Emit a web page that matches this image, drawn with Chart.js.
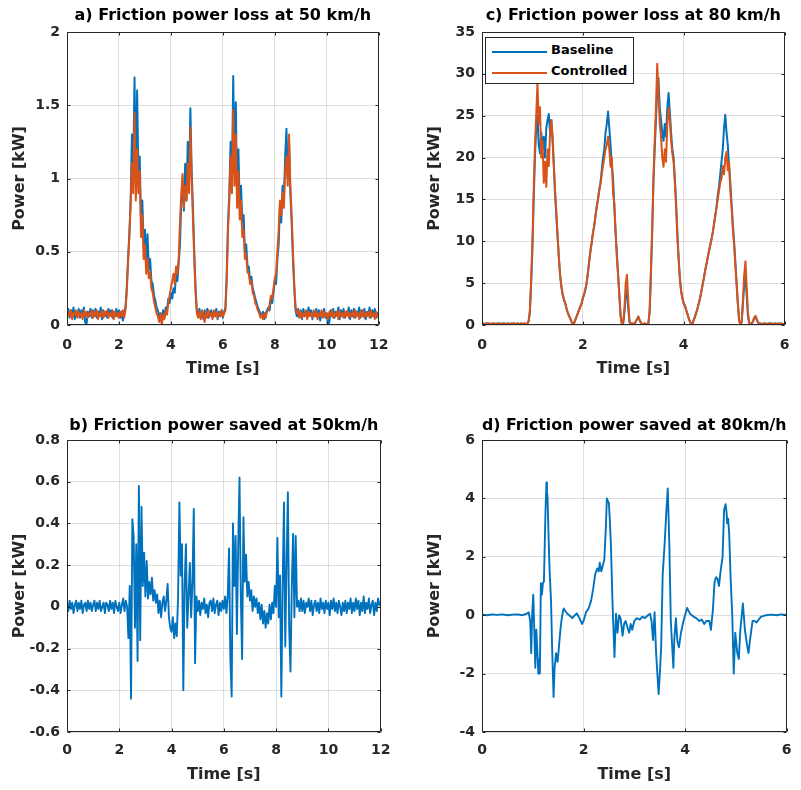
<!DOCTYPE html>
<html>
<head>
<meta charset="utf-8">
<script src="https://cdn.jsdelivr.net/npm/chart.js@4.4.0/dist/chart.umd.min.js"></script>
<style>
  html, body { margin: 0; padding: 0; background: #fff; }
  #wrap { position: relative; width: 801px; height: 790px; background: #fff; overflow: hidden; }
  #wrap canvas { position: absolute; }
  #legendC { position: absolute; left: 485px; top: 37px; width: 149px; height: 47px; box-sizing: border-box;
             background: #fff; border: 1px solid #262626; }
  .lrow { position: absolute; left: 0; width: 100%; height: 20px; }
  .lsw { position: absolute; left: 6px; top: 9px; width: 55px; height: 2px; }
  .ltx { position: absolute; left: 65px; top: 0; line-height: 20px; font: bold 13px 'DejaVu Sans', sans-serif; color: #000; white-space: nowrap; }
</style>
</head>
<body>
<div id="wrap">
  <canvas id="cA" width="400" height="395" style="left:0px;top:0px;width:400px;height:395px"></canvas>
  <canvas id="cC" width="401" height="395" style="left:400px;top:0px;width:401px;height:395px"></canvas>
  <canvas id="cB" width="400" height="395" style="left:0px;top:395px;width:400px;height:395px"></canvas>
  <canvas id="cD" width="401" height="395" style="left:400px;top:395px;width:401px;height:395px"></canvas>
  <div id="legendC"></div>
</div>
<script>
// ---------------- DATA ----------------
const seriesNames = ['Baseline', 'Controlled'];
const titles = [
  'a) Friction power loss at 50 km/h',
  'b) Friction power saved at 50km/h',
  'c) Friction power loss at 80 km/h',
  'd) Friction power saved at 80km/h'
];
const xTitle = 'Time [s]';
const yTitle = 'Power [kW]';

const xTicks50 = [0, 2, 4, 6, 8, 10, 12];
const xTicks80 = [0, 2, 4, 6];
const yTicksA = [0, 0.5, 1, 1.5, 2];
const yTicksB = [-0.6, -0.4, -0.2, 0, 0.2, 0.4, 0.6, 0.8];
const yTicksC = [0, 5, 10, 15, 20, 25, 30, 35];
const yTicksD = [-4, -2, 0, 2, 4, 6];

// panels a) and b): samples read every 0.05 s from 0 to 12 s
const sampleTimes50 = Array.from({length: 241}, (_, i) => Math.round(i * 5) / 100);
// panel c): samples read every 0.025 s from 0 to 6 s
const sampleTimes80 = Array.from({length: 241}, (_, i) => Math.round(i * 25) / 1000);

const baselineA = [
  0.07,0.11,0.05,0.10,0.06,0.12,0.04,0.09,0.06,0.11,0.05,0.10,0.07,0.12,0.02,0.00,0.09,0.06,0.11,0.05,
  0.10,0.06,0.11,0.05,0.09,0.07,0.12,0.04,0.10,0.06,0.09,0.05,0.11,0.07,0.10,0.05,0.09,0.06,0.11,0.06,
  0.10,0.05,0.09,0.03,0.08,0.12,0.25,0.45,0.62,0.85,1.30,1.05,1.69,0.95,1.60,1.00,1.15,0.70,0.85,0.55,
  0.65,0.45,0.62,0.38,0.45,0.30,0.28,0.20,0.17,0.12,0.10,0.06,0.08,0.03,0.10,0.05,0.12,0.10,0.18,0.15,
  0.22,0.18,0.25,0.22,0.35,0.30,0.42,0.55,0.85,0.95,0.78,1.10,0.85,1.25,0.95,1.48,1.05,0.80,0.50,0.25,
  0.10,0.07,0.11,0.05,0.09,0.04,0.10,0.06,0.11,0.05,0.08,0.10,0.05,0.09,0.06,0.11,0.04,0.09,0.06,0.10,
  0.05,0.09,0.12,0.35,0.70,0.90,1.25,0.95,1.70,1.05,1.52,0.85,1.20,0.80,0.95,0.70,0.75,0.50,0.55,0.40,
  0.40,0.30,0.33,0.25,0.22,0.18,0.15,0.12,0.10,0.08,0.06,0.09,0.04,0.08,0.10,0.12,0.10,0.18,0.15,0.22,
  0.30,0.28,0.45,0.55,0.82,0.70,0.95,0.85,1.15,1.34,1.00,1.25,0.90,0.70,0.45,0.25,0.10,0.06,0.11,0.05,
  0.10,0.04,0.11,0.06,0.09,0.05,0.12,0.07,0.10,0.04,0.09,0.06,0.11,0.05,0.10,0.03,0.09,0.07,0.11,0.05,
  0.08,0.00,0.02,0.10,0.06,0.11,0.05,0.09,0.07,0.12,0.04,0.10,0.06,0.11,0.05,0.09,0.07,0.12,0.04,0.10,
  0.06,0.11,0.05,0.09,0.07,0.12,0.05,0.10,0.06,0.11,0.04,0.09,0.07,0.12,0.05,0.10,0.06,0.11,0.05,0.08,
  0.07
];
const controlledA = [
  0.05,0.09,0.06,0.10,0.04,0.08,0.07,0.10,0.05,0.09,0.06,0.08,0.04,0.10,0.06,0.09,0.05,0.08,0.07,0.10,
  0.05,0.09,0.06,0.10,0.04,0.08,0.06,0.10,0.05,0.09,0.07,0.10,0.05,0.08,0.06,0.10,0.04,0.09,0.06,0.08,
  0.05,0.09,0.06,0.10,0.05,0.10,0.22,0.42,0.60,0.82,1.10,0.90,1.45,0.85,1.20,0.90,1.05,0.60,0.75,0.45,
  0.55,0.35,0.45,0.32,0.36,0.25,0.22,0.16,0.12,0.08,0.06,0.02,0.08,0.00,0.07,0.04,0.10,0.07,0.15,0.20,
  0.25,0.30,0.35,0.28,0.40,0.35,0.45,0.70,0.90,1.03,0.80,0.95,0.85,1.10,0.90,1.35,1.00,0.72,0.45,0.22,
  0.08,0.05,0.09,0.04,0.10,0.06,0.02,0.09,0.05,0.10,0.06,0.08,0.04,0.10,0.06,0.09,0.05,0.08,0.06,0.10,
  0.06,0.08,0.10,0.30,0.65,0.85,1.15,0.90,1.47,0.95,1.30,0.80,1.05,0.72,0.85,0.60,0.65,0.45,0.48,0.36,
  0.35,0.28,0.30,0.22,0.20,0.15,0.13,0.10,0.08,0.05,0.07,0.04,0.08,0.05,0.09,0.10,0.14,0.20,0.18,0.25,
  0.32,0.35,0.50,0.65,0.85,0.75,0.90,0.80,1.05,1.15,0.95,1.30,0.95,0.75,0.50,0.28,0.12,0.08,0.10,0.05,
  0.09,0.05,0.08,0.06,0.10,0.04,0.09,0.06,0.08,0.05,0.10,0.06,0.09,0.04,0.08,0.06,0.10,0.05,0.09,0.06,
  0.08,0.04,0.09,0.06,0.10,0.05,0.08,0.06,0.09,0.04,0.10,0.06,0.08,0.05,0.09,0.06,0.10,0.05,0.08,0.06,
  0.09,0.05,0.10,0.06,0.08,0.04,0.09,0.06,0.10,0.05,0.08,0.06,0.09,0.05,0.10,0.06,0.08,0.04,0.09,0.06,
  0.05
];
const savedB = [
  0.02,-0.02,0.03,-0.01,0.02,-0.03,0.01,0.03,-0.02,0.02,-0.01,0.03,-0.03,0.01,0.02,-0.02,0.03,-0.01,0.02,-0.02,
  0.01,0.03,-0.02,0.02,-0.01,0.03,-0.02,0.00,0.02,-0.03,0.02,0.01,-0.02,0.03,-0.01,0.02,-0.03,0.03,0.00,-0.02,
  0.02,-0.03,0.01,0.04,-0.02,0.03,0.00,-0.15,0.10,-0.44,0.42,0.34,-0.10,0.30,-0.26,0.58,-0.16,0.48,0.10,0.26,
  0.05,0.22,0.04,0.12,0.06,0.14,0.03,0.08,0.02,0.06,-0.03,0.03,-0.05,0.02,0.05,-0.02,0.03,0.11,-0.05,-0.10,
  -0.12,-0.05,-0.15,-0.08,-0.14,0.05,0.50,0.15,0.30,-0.40,0.10,0.30,-0.10,0.05,0.21,-0.05,0.12,0.47,-0.27,0.05,
  -0.02,0.03,-0.04,0.02,-0.01,0.04,-0.03,0.01,-0.05,0.02,0.03,-0.02,0.04,-0.03,0.01,0.03,-0.04,0.02,-0.02,0.03,
  -0.01,0.05,-0.03,0.05,0.28,-0.25,-0.43,0.40,0.10,0.34,-0.13,0.30,0.62,0.05,-0.25,0.43,0.12,0.25,0.05,0.12,
  0.03,0.08,-0.02,0.05,0.00,0.04,-0.03,0.02,-0.06,0.01,-0.08,-0.02,-0.10,-0.03,-0.08,0.01,-0.06,0.02,-0.03,0.10,
  0.00,0.33,-0.05,0.15,-0.43,0.10,0.50,-0.19,0.20,0.55,-0.10,-0.31,0.10,0.35,-0.05,0.34,0.00,0.03,-0.02,0.04,
  -0.02,0.03,-0.03,0.02,0.00,0.04,-0.02,0.03,-0.04,0.01,0.03,-0.02,0.02,-0.03,0.04,-0.01,0.02,-0.03,0.03,-0.01,
  0.02,-0.04,0.03,-0.01,0.04,-0.02,0.02,-0.03,0.03,0.00,-0.04,0.02,-0.02,0.03,-0.03,0.02,-0.01,0.04,-0.03,0.02,
  -0.02,0.04,-0.01,0.03,-0.04,0.02,-0.02,0.05,-0.03,0.02,-0.01,0.04,-0.03,0.01,0.03,-0.04,0.02,-0.02,0.04,0.01,
  0.02
];
const baselineC = [
  0.1,0.2,0.1,0.1,0.2,0.1,0.2,0.1,0.1,0.2,0.1,0.1,0.2,0.1,0.2,0.1,0.1,0.2,0.1,0.1,
  0.2,0.1,0.1,0.2,0.1,0.2,0.1,0.1,0.2,0.1,0.1,0.2,0.1,0.2,0.1,0.1,0.2,0.4,1.5,5.0,
  9.0,15.0,20.0,23.5,25.0,21.5,20.5,23.0,21.0,22.5,20.0,23.5,24.5,25.2,23.0,24.5,22.0,19.0,15.5,13.0,
  10.5,8.0,5.8,4.5,3.6,3.0,2.6,2.0,1.5,1.1,0.8,0.4,0.1,0.2,0.6,1.0,1.4,1.8,2.2,2.6,
  3.2,3.6,4.2,5.0,6.2,7.5,8.8,9.8,11.0,11.8,13.0,14.2,15.0,16.2,17.0,18.5,20.0,21.0,23.0,24.0,
  25.5,23.5,21.5,19.0,17.5,14.0,11.0,8.5,6.0,3.5,1.0,0.1,0.2,1.5,3.5,4.2,2.0,0.3,0.1,0.2,
  0.1,0.2,0.4,0.7,1.0,0.6,0.3,0.1,0.1,0.2,0.1,0.1,0.2,1.5,6.0,11.0,17.0,21.0,24.5,28.0,
  29.5,26.0,24.5,23.0,22.0,24.0,22.5,26.0,27.7,25.5,23.0,21.0,20.0,17.5,14.5,11.0,8.0,5.5,4.0,3.2,
  2.6,2.3,1.8,1.3,0.8,0.4,0.1,0.2,0.6,1.0,1.5,2.0,2.6,3.2,4.0,4.8,5.6,6.5,7.2,8.0,
  8.8,9.5,10.2,11.0,12.0,13.0,14.0,15.5,16.5,18.0,19.5,21.0,23.5,25.1,23.0,21.5,19.0,17.0,14.5,12.0,
  10.0,7.5,5.0,2.5,0.5,0.1,0.3,2.5,5.0,5.6,3.5,1.0,0.2,0.1,0.2,0.4,0.8,1.0,0.6,0.3,
  0.1,0.2,0.1,0.1,0.2,0.1,0.1,0.2,0.1,0.2,0.1,0.1,0.2,0.1,0.1,0.2,0.1,0.2,0.1,0.1,
  0.1
];
const controlledC = [
  0.2,0.1,0.1,0.2,0.1,0.2,0.1,0.1,0.2,0.1,0.2,0.1,0.1,0.2,0.1,0.1,0.2,0.1,0.2,0.1,
  0.1,0.2,0.1,0.1,0.2,0.1,0.2,0.1,0.1,0.2,0.1,0.2,0.1,0.1,0.2,0.1,0.2,0.5,1.8,5.5,
  10.0,16.0,21.5,25.0,28.9,24.0,26.0,20.0,22.0,17.0,19.5,16.5,21.0,19.0,23.0,24.5,22.5,19.0,16.0,13.5,
  10.5,8.0,6.0,4.6,3.7,3.1,2.6,2.0,1.5,1.1,0.8,0.4,0.1,0.2,0.6,1.0,1.4,1.8,2.2,2.6,
  3.2,3.7,4.3,5.0,6.2,7.6,8.8,9.8,11.0,11.8,13.0,14.0,15.0,16.0,16.8,18.0,19.0,20.0,21.0,21.5,
  22.5,21.0,18.9,20.0,15.7,14.5,11.0,8.0,5.8,3.5,1.0,0.1,0.3,2.0,5.0,6.0,3.0,0.5,0.1,0.2,
  0.1,0.2,0.4,0.7,1.0,0.6,0.3,0.1,0.1,0.2,0.1,0.1,0.2,1.8,6.5,11.5,17.5,22.0,26.0,31.2,
  28.0,24.0,22.5,20.0,18.9,21.0,19.5,24.0,26.0,24.5,22.0,20.5,19.5,17.0,14.0,10.5,7.8,5.5,4.0,3.2,
  2.6,2.3,1.8,1.3,0.8,0.4,0.1,0.2,0.6,1.0,1.5,2.0,2.6,3.2,4.0,4.8,5.6,6.5,7.2,8.0,
  8.8,9.5,10.2,11.0,12.0,13.0,14.0,15.0,16.0,17.0,17.5,19.0,18.0,20.0,20.7,18.5,19.5,16.0,14.0,11.5,
  9.5,7.0,4.8,2.5,0.5,0.1,0.4,3.0,6.0,7.6,4.5,1.5,0.3,0.1,0.2,0.5,0.9,1.1,0.7,0.3,
  0.2,0.1,0.1,0.2,0.1,0.2,0.1,0.1,0.2,0.1,0.2,0.1,0.1,0.2,0.1,0.2,0.1,0.1,0.2,0.1,
  0.1
];
const timeD = [
  0.00,0.10,0.20,0.30,0.40,0.50,0.60,0.70,0.80,0.88,
  0.92,0.95,0.97,0.99,1.01,1.03,1.05,1.07,1.09,1.11,
  1.13,1.14,1.16,1.18,1.20,1.22,1.25,1.27,1.28,1.29,
  1.31,1.33,1.36,1.38,1.41,1.43,1.46,1.49,1.52,1.55,
  1.58,1.61,1.64,1.68,1.72,1.78,1.83,1.87,1.92,1.97,
  2.00,2.05,2.10,2.15,2.19,2.23,2.27,2.30,2.32,2.35,
  2.38,2.41,2.44,2.46,2.48,2.50,2.52,2.54,2.57,2.61,
  2.64,2.67,2.70,2.73,2.77,2.80,2.83,2.87,2.90,2.93,
  2.96,3.00,3.05,3.11,3.16,3.21,3.27,3.31,3.34,3.37,
  3.40,3.43,3.48,3.51,3.53,3.56,3.60,3.63,3.66,3.69,
  3.72,3.77,3.79,3.82,3.85,3.88,3.92,3.97,4.04,4.10,
  4.17,4.22,4.28,4.33,4.38,4.42,4.48,4.51,4.55,4.58,
  4.61,4.64,4.67,4.70,4.74,4.77,4.80,4.82,4.83,4.85,
  4.87,4.90,4.93,4.96,4.99,5.03,5.06,5.09,5.14,5.18,
  5.22,5.25,5.28,5.33,5.37,5.41,5.45,5.50,5.60,5.70,
  5.80,5.90,6.00
];
const savedD = [
  0.02,0.00,0.03,0.01,0.03,0.00,0.02,0.03,0.00,0.05,
  0.10,-0.20,-1.30,0.10,0.70,-0.50,-1.80,-0.50,-1.20,-2.00,
  -1.50,-2.00,1.10,0.70,1.10,1.15,3.50,4.55,4.20,4.10,
  2.80,1.60,0.50,-1.00,-2.80,-1.80,-1.30,-1.60,-1.00,-0.40,
  0.00,0.23,0.15,0.05,0.00,-0.10,0.00,0.06,-0.10,-0.30,
  -0.20,0.10,0.23,0.50,0.90,1.40,1.60,1.50,1.80,1.50,
  1.70,1.90,3.00,4.00,3.90,3.85,3.20,2.40,0.50,-1.43,
  0.05,-0.60,0.00,-0.10,-0.70,-0.30,-0.20,-0.45,-0.60,-0.30,
  -0.50,-0.20,-0.10,-0.15,-0.05,-0.10,0.00,0.05,-0.20,-0.85,
  0.10,-1.30,-2.70,-1.80,-1.10,1.40,2.50,3.50,4.34,2.50,
  -0.20,-1.80,-0.80,-0.10,-0.90,-1.10,-0.60,-0.20,0.25,0.05,
  -0.05,-0.10,-0.20,-0.15,-0.30,-0.20,-0.20,-0.50,0.20,1.10,
  1.30,1.25,1.00,1.50,2.00,3.60,3.80,3.50,3.15,3.30,
  2.80,1.20,0.05,-2.00,-0.60,-1.30,-1.50,-0.50,0.40,-0.50,
  -1.00,-1.30,-0.85,-0.20,-0.20,-0.25,-0.15,-0.05,0.00,0.02,
  0.00,0.03,0.01
];

// ---------------- STYLE ----------------
const BLUE = '#0072BD';
const ORANGE = '#D95319';
const FONT = "'DejaVu Sans', sans-serif";
const AXIS = '#262626';
const GRID = '#dedede';

const framePlugin = {
  id: 'frame',
  afterDatasetsDraw(chart) {
    const {ctx, chartArea: a, scales} = chart;
    const L = Math.round(a.left) + 0.5, R = Math.round(a.right) - 0.5;
    const T = Math.round(a.top) + 0.5, B = Math.round(a.bottom) - 0.5;
    ctx.save();
    ctx.strokeStyle = AXIS;
    ctx.lineWidth = 1;
    ctx.beginPath();
    ctx.rect(L, T, R - L, B - T);
    const tk = 3;
    scales.x.ticks.forEach(t => {
      const p = Math.round(scales.x.getPixelForValue(t.value)) + 0.5;
      ctx.moveTo(p, B); ctx.lineTo(p, B - tk);
      ctx.moveTo(p, T); ctx.lineTo(p, T + tk);
    });
    scales.y.ticks.forEach(t => {
      const p = Math.round(scales.y.getPixelForValue(t.value)) + 0.5;
      ctx.moveTo(L, p); ctx.lineTo(L + tk, p);
      ctx.moveTo(R, p); ctx.lineTo(R - tk, p);
    });
    ctx.stroke();
    ctx.restore();
  }
};

function makePanel(id, cfg) {
  const tickFont = {family: FONT, size: 14, weight: 'bold', lineHeight: 1.2};
  const titleFont = {family: FONT, size: 16, weight: 'bold', lineHeight: 1.2};
  return new Chart(document.getElementById(id), {
    type: 'line',
    data: {
      datasets: cfg.series.map(s => ({
        label: s.label,
        data: cfg.times.map((t, i) => ({x: t, y: s.values[i]})),
        borderColor: s.color,
        backgroundColor: s.color,
        borderWidth: cfg.lineWidth,
        borderJoinStyle: 'round',
        borderCapStyle: 'round',
        pointRadius: 0,
        tension: 0,
        fill: false,
        order: s.order
      }))
    },
    options: {
      responsive: false,
      animation: false,
      events: [],
      devicePixelRatio: 1,
      layout: {padding: cfg.pad},
      plugins: {
        legend: {display: false},
        tooltip: {enabled: false},
        title: {
          display: true, text: cfg.title, fullSize: false, color: '#000',
          font: titleFont, padding: cfg.titlePad
        }
      },
      scales: {
        x: {
          type: 'linear',
          min: cfg.xTicks[0], max: cfg.xTicks[cfg.xTicks.length - 1],
          afterBuildTicks: s => { s.ticks = cfg.xTicks.map(v => ({value: v})); },
          afterFit: s => { s.height = cfg.xHeight; },
          ticks: {color: AXIS, font: tickFont, padding: cfg.xTickPad, maxRotation: 0, autoSkip: false,
                  callback: v => String(v)},
          grid: {color: GRID, lineWidth: 1, drawTicks: false},
          border: {display: false},
          title: {display: true, text: xTitle, color: AXIS, font: titleFont,
                  padding: {top: 0, bottom: cfg.xTitlePad}}
        },
        y: {
          type: 'linear',
          min: cfg.yTicks[0], max: cfg.yTicks[cfg.yTicks.length - 1],
          afterBuildTicks: s => { s.ticks = cfg.yTicks.map(v => ({value: v})); },
          afterFit: s => { s.width = 67; },
          ticks: {color: AXIS, font: tickFont, padding: 7, autoSkip: false,
                  callback: v => String(v)},
          grid: {color: GRID, lineWidth: 1, drawTicks: false},
          border: {display: false},
          title: {display: true, text: yTitle, color: AXIS, font: titleFont,
                  padding: {top: 10.4, bottom: 0}}
        }
      }
    },
    plugins: [framePlugin]
  });
}

const topRow = {xHeight: 70, xTickPad: 11.6, xTitlePad: 16.2, titlePad: {top: 6.4, bottom: 6.4}};
const botRow = {xHeight: 58, xTickPad: 9.6, xTitlePad: 5.9, titlePad: {top: 6.4, bottom: 4.9}};

makePanel('cA', Object.assign({}, topRow, {
  title: titles[0], times: sampleTimes50, xTicks: xTicks50, yTicks: yTicksA, lineWidth: 2,
  pad: {left: 0, right: 18, top: 0, bottom: 0},
  series: [
    {label: seriesNames[0], values: baselineA, color: BLUE, order: 1},
    {label: seriesNames[1], values: controlledA, color: ORANGE, order: 0}
  ]
}));

const chartC = makePanel('cC', Object.assign({}, topRow, {
  title: titles[2], times: sampleTimes80, xTicks: xTicks80, yTicks: yTicksC, lineWidth: 2,
  pad: {left: 15, right: 5, top: 0, bottom: 0},
  series: [
    {label: seriesNames[0], values: baselineC, color: BLUE, order: 1},
    {label: seriesNames[1], values: controlledC, color: ORANGE, order: 0}
  ]
}));

makePanel('cB', Object.assign({}, botRow, {
  title: titles[1], times: sampleTimes50, xTicks: xTicks50, yTicks: yTicksB, lineWidth: 1.9,
  pad: {left: 0, right: 18, top: 14.5, bottom: 0},
  series: [{label: 'Saved', values: savedB, color: BLUE, order: 0}]
}));

makePanel('cD', Object.assign({}, botRow, {
  title: titles[3], times: timeD, xTicks: xTicks80, yTicks: yTicksD, lineWidth: 1.9,
  pad: {left: 15, right: 5, top: 14.5, bottom: 0},
  series: [{label: 'Saved', values: savedD, color: BLUE, order: 0}]
}));

// HTML legend built from chart c's datasets
(function buildLegend(chart, el) {
  chart.data.datasets.forEach((ds, i) => {
    const row = document.createElement('div');
    row.className = 'lrow';
    row.style.top = (4 + i * 21) + 'px';
    const sw = document.createElement('span');
    sw.className = 'lsw';
    sw.style.background = ds.borderColor;
    const tx = document.createElement('span');
    tx.className = 'ltx';
    tx.textContent = ds.label;
    row.appendChild(sw);
    row.appendChild(tx);
    el.appendChild(row);
  });
})(chartC, document.getElementById('legendC'));
</script>
</body>
</html>
